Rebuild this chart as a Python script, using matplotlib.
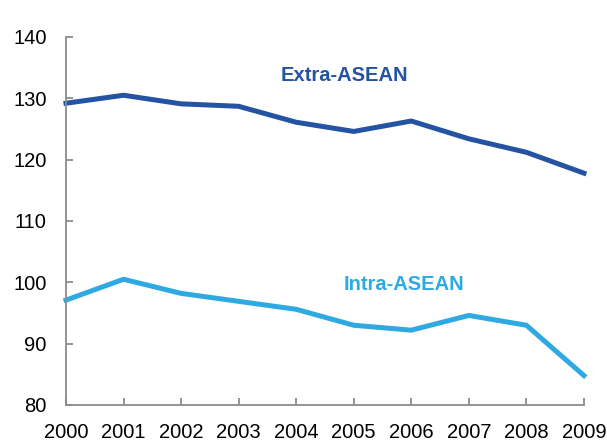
import matplotlib
matplotlib.use("Agg")
import matplotlib.pyplot as plt

years = [2000, 2001, 2002, 2003, 2004, 2005, 2006, 2007, 2008, 2009]
extra_asean = [129.2, 130.5, 129.1, 128.7, 126.1, 124.6, 126.3, 123.4, 121.2, 117.8]
intra_asean = [97.1, 100.5, 98.2, 96.9, 95.6, 93.0, 92.2, 94.6, 93.0, 84.8]
yticks = [80, 90, 100, 110, 120, 130, 140]

dark_blue = "#2353a2"
light_blue = "#2fa9e1"
grey = "#8c8c8c"

plt.rcParams["font.family"] = ["Liberation Sans", "DejaVu Sans"]

fig = plt.figure(figsize=(6.07, 4.43), dpi=100)
ax = fig.add_axes([0.1087, 0.0858, 0.8533, 0.8307])

ax.plot(years, extra_asean, color=dark_blue, lw=3.6, solid_joinstyle="miter",
        clip_on=False)
ax.plot(years, intra_asean, color=light_blue, lw=3.6, solid_joinstyle="miter",
        clip_on=False)

ax.text(2004.83, 133.8, "Extra-ASEAN", color=dark_blue, fontsize=14.5,
        fontweight="bold", ha="center", va="center")
ax.text(2005.87, 99.6, "Intra-ASEAN", color=light_blue, fontsize=14.5,
        fontweight="bold", ha="center", va="center")

ax.set_xlim(2000, 2009)
ax.set_ylim(80, 140)
ax.set_xticks(years)
ax.set_yticks(yticks)

for side in ["top", "right"]:
    ax.spines[side].set_visible(False)
for side in ["left", "bottom"]:
    ax.spines[side].set_color(grey)
    ax.spines[side].set_linewidth(1.3)

ax.tick_params(axis="both", direction="in", length=5, width=1.3, color=grey,
               labelsize=14.5, labelcolor="black")
ax.tick_params(axis="x", pad=13)
ax.tick_params(axis="y", pad=14)

fig.savefig("out.png", dpi=100)
